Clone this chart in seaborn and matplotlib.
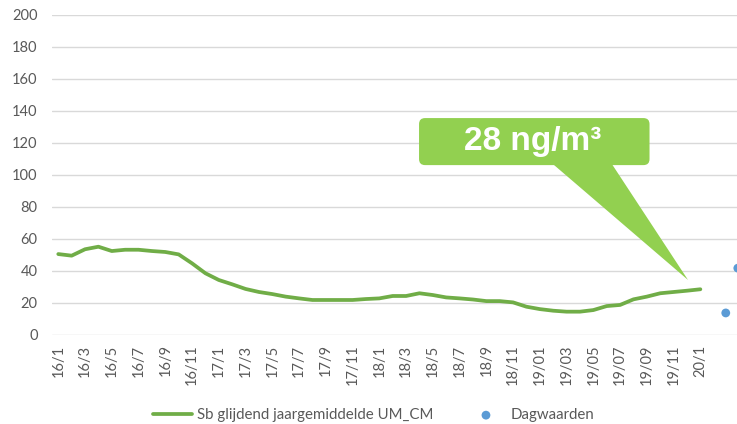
import matplotlib
matplotlib.use("Agg")
import matplotlib.pyplot as plt
import seaborn as sns
import pandas as pd
from matplotlib.patches import FancyBboxPatch, Polygon

# monthly running annual mean of Sb (ng/m3), 2016/01 .. 2020/01
sb_values = [50.4, 49.4, 53.4, 55.0, 52.3, 53.1, 53.1, 52.3, 51.7, 50.2,
             44.6, 38.4, 34.2, 31.5, 28.6, 26.7, 25.4, 23.8, 22.7, 21.7,
             21.7, 21.7, 21.7, 22.3, 22.7, 24.2, 24.2, 25.9, 24.8, 23.3,
             22.7, 22.0, 21.0, 21.0, 20.2, 17.5, 16.0, 15.0, 14.4, 14.4,
             15.4, 17.9, 18.6, 22.1, 23.8, 25.9, 26.7, 27.5, 28.4]
tick_labels = ["16/1", "16/3", "16/5", "16/7", "16/9", "16/11",
               "17/1", "17/3", "17/5", "17/7", "17/9", "17/11",
               "18/1", "18/3", "18/5", "18/7", "18/9", "18/11",
               "19/01", "19/03", "19/05", "19/07", "19/09", "19/11",
               "20/1"]
# daily values (month index position, value)
dag_x = [49.9, 50.8]
dag_values = [13.6, 41.6]

line_color = "#70AD47"
dot_color = "#5B9BD5"
text_color = "#595959"

sns.set_theme(style="white")
plt.rcParams["font.family"] = ["Lato", "DejaVu Sans"]

df = pd.DataFrame({"maand": range(len(sb_values)), "sb": sb_values})

fig = plt.figure(figsize=(7.37, 4.24), dpi=100)
ax = fig.add_axes([0.070, 0.2106, 0.930, 0.7547])

sns.lineplot(data=df, x="maand", y="sb", ax=ax, color=line_color,
             linewidth=2.7, label="Sb glijdend jaargemiddelde UM_CM")
sns.scatterplot(x=dag_x, y=dag_values, ax=ax, color=dot_color, s=40,
                edgecolor="none", clip_on=False, label="Dagwaarden")

ax.set_xlim(-0.5, 50.74)
ax.set_ylim(0, 200)
ax.set_yticks(range(0, 201, 20))
ax.set_xticks(range(0, len(sb_values), 2))
ax.set_xticklabels(tick_labels, rotation=90, va="top")
ax.set_xlabel("")
ax.set_ylabel("")
ax.grid(axis="y", color="#D9D9D9", linewidth=1)
ax.set_axisbelow(True)
for s in ax.spines.values():
    s.set_visible(False)
ax.tick_params(axis="both", length=0, labelsize=10.5, labelcolor=text_color)
ax.tick_params(axis="y", pad=10)
ax.tick_params(axis="x", pad=7)

# callout
green = "#92D050"
box = FancyBboxPatch((26.97, 106), 44.2 - 26.97, 135.4 - 106,
                     boxstyle="round,pad=0,rounding_size=0.45",
                     mutation_aspect=8.36, facecolor=green,
                     edgecolor="none", zorder=5)
ax.add_patch(box)
ax.add_patch(Polygon([[37.0, 106.5], [41.4, 106.5], [47.08, 34.2]],
                     closed=True, facecolor=green, edgecolor="none",
                     zorder=5))
ax.text(35.5, 120.6, "28 ng/m³", color="white", fontsize=24,
        fontweight="bold", family=["Liberation Sans", "DejaVu Sans"],
        ha="center", va="center", zorder=6)

handles, labels = ax.get_legend_handles_labels()
ax.get_legend().remove()
fig.legend(handles, labels, loc="center", bbox_to_anchor=(0.507, 0.021),
           ncol=2, frameon=False, fontsize=10.8, labelcolor=text_color,
           handlelength=2.6, handletextpad=0.35, columnspacing=2.2)

fig.savefig("out.png", dpi=100)
